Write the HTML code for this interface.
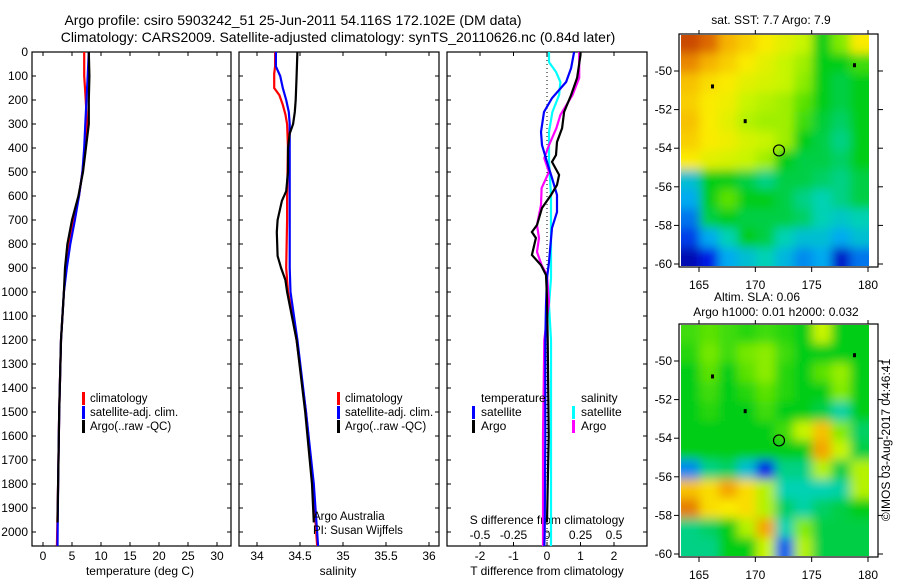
<!DOCTYPE html>
<html><head><meta charset="utf-8"><style>
body{margin:0;background:#fff;}
svg{display:block;font-family:"Liberation Sans",sans-serif;}
text{fill:#000;}
</style></head><body>
<svg id="chart" width="900" height="580" viewBox="0 0 900 580">
<defs>
<filter id="blur1" x="-5%" y="-5%" width="110%" height="110%"><feGaussianBlur stdDeviation="5"/></filter>
<clipPath id="clipM1"><rect x="681" y="35" width="188" height="231"/></clipPath>
<clipPath id="clipM2"><rect x="681" y="325" width="188" height="231"/></clipPath>
<clipPath id="clipP1"><rect x="32" y="52" width="199" height="494"/></clipPath>
<clipPath id="clipP2"><rect x="239" y="52" width="200" height="494"/></clipPath>
<clipPath id="clipP3"><rect x="447" y="52" width="200" height="494"/></clipPath>
</defs>
<text x="293" y="25" font-size="14" text-anchor="middle">Argo profile: csiro 5903242_51 25-Jun-2011 54.116S 172.102E (DM data)</text>
<text x="338" y="42" font-size="14" text-anchor="middle">Climatology: CARS2009. Satellite-adjusted climatology: synTS_20110626.nc (0.84d later)</text>
<g id="g"></g>
<text x="771" y="24" font-size="12" text-anchor="middle">sat. SST: 7.7 Argo: 7.9</text>
<text x="757" y="301" font-size="12" text-anchor="middle">Altim. SLA: 0.06</text>
<text x="776" y="316" font-size="12" text-anchor="middle">Argo h1000: 0.01 h2000: 0.032</text>
<text transform="translate(890,440) rotate(-90)" font-size="12" text-anchor="middle">©IMOS 03-Aug-2017 04:46:41</text>
</svg>
<script>
// ---------- data ----------
const tDepthRed=[0,100,170,300,400,500,600,700,800,900,1000,1200,1500,1800,2060];
const tRed=[7.1,7.1,7.3,7.6,7.3,6.8,6.2,5.2,4.5,4.0,3.6,3.1,2.8,2.6,2.4];
const tDepthBlue=[0,100,200,300,400,500,600,700,800,900,1000,1200,1500,1800,2060];
const tBlue=[7.9,7.7,7.5,7.3,7.1,6.8,6.2,5.5,4.7,4.1,3.6,3.1,2.8,2.6,2.5];
const tDepthBlack=[0,100,200,300,400,500,600,700,800,900,1000,1200,1500,1800,1960];
const tBlack=[7.9,8.0,7.9,7.9,7.4,6.9,6.1,5.0,4.2,3.8,3.6,3.1,2.8,2.6,2.5];
const sDepthRed=[0,60,90,150,180,220,260,300,400,600,700,900,1000,1200,1500,1800,2060];
const sRed=[34.21,34.21,34.20,34.20,34.26,34.30,34.33,34.35,34.36,34.35,34.35,34.34,34.36,34.46,34.57,34.65,34.70];
const sDepthBlue=[0,60,100,150,200,250,300,600,900,1000,1200,1500,1800,2060];
const sBlue=[34.22,34.22,34.27,34.30,34.34,34.37,34.38,34.38,34.38,34.39,34.47,34.57,34.66,34.71];
const sDepthBlack=[0,100,200,250,300,340,400,500,580,620,700,750,850,900,950,1000,1200,1500,1800,1960];
const sBlack=[34.47,34.46,34.45,34.44,34.42,34.38,34.36,34.36,34.34,34.29,34.24,34.23,34.24,34.28,34.33,34.35,34.46,34.56,34.64,34.66];
const dDepthTsat=[0,67,125,192,250,333,388,458,525,596,667,733,875,942,1054,1200,1600,2000,2060];
const dTsat=[0.81,0.72,0.57,0.15,-0.09,-0.18,-0.15,0,0.15,0.30,0.30,0.15,0.06,0,-0.03,-0.05,-0.05,-0.07,-0.08];
const dDepthTargo=[0,12,108,179,250,317,375,429,458,512,554,596,650,721,750,775,846,888,929,1025,1200,1600,1960];
const dTargo=[1.0,1.0,0.9,0.72,0.51,0.45,0.3,0.27,0.15,0.36,0.3,0.12,-0.15,-0.3,-0.45,-0.33,-0.45,-0.18,-0.03,0,0.02,0.05,0];
const dDepthSsat=[0,42,83,125,179,250,333,458,596,942,1054,1200,1600,2060];
const dSsat=[0.015,0.015,0.067,0.10,0.09,0.04,0.015,0.015,0.03,0.03,0.015,0.03,0.03,0.03];
const dDepthSargo=[0,12,108,179,262,317,388,442,500,567,638,721,775,833,888,929,1042,1200,1600,2060];
const dSargo=[0.24,0.24,0.24,0.19,0.10,0.07,0.015,-0.02,0.015,-0.04,-0.045,-0.075,-0.06,-0.075,-0.04,0,0.015,-0.02,-0.03,-0.03];
const depthTicks=[0,100,200,300,400,500,600,700,800,900,1000,1100,1200,1300,1400,1500,1600,1700,1800,1900,2000];
const tTicks=[0,5,10,15,20,25,30];
const sTicks=[34,34.5,35,35.5,36];
const sTickLabels=["34","34.5","35","35.5","36"];
const dTTicks=[-2,-1,0,1,2];
const dSTicks=[-0.5,-0.25,0,0.25,0.5];
const dSTickLabels=["-0.5","-0.25","0","0.25","0.5"];
const lonTicks=[165,170,175,180];
const latTicks=[-50,-52,-54,-56,-58,-60];
const sstGrid=[
[.92,.88,.78,.74,.7,.66,.62,.45,.55,.7],
[.84,.78,.74,.7,.66,.62,.58,.45,.45,.5],
[.76,.72,.7,.66,.64,.62,.56,.45,.42,.45],
[.74,.7,.68,.62,.6,.58,.52,.45,.42,.45],
[.76,.7,.66,.6,.58,.58,.5,.43,.4,.45],
[.74,.7,.68,.64,.62,.58,.45,.42,.38,.45],
[.7,.66,.64,.62,.58,.45,.42,.42,.4,.45],
[.3,.45,.45,.42,.38,.42,.42,.4,.38,.42],
[.25,.45,.52,.45,.45,.42,.38,.35,.38,.42],
[.2,.42,.45,.42,.42,.42,.4,.35,.32,.35],
[.15,.25,.35,.45,.42,.35,.3,.3,.25,.3],
[.05,.12,.25,.3,.35,.28,.22,.25,.08,.2]];
const slaGrid=[
[.5,.52,.5,.48,.5,.48,.45,.62,.45,.45],
[.48,.54,.5,.54,.56,.5,.45,.45,.45,.45],
[.45,.52,.45,.52,.56,.48,.45,.52,.57,.45],
[.45,.5,.45,.48,.52,.48,.45,.45,.55,.45],
[.45,.48,.45,.45,.5,.45,.45,.42,.36,.45],
[.45,.45,.45,.45,.45,.5,.62,.76,.55,.4],
[.45,.45,.45,.45,.45,.45,.45,.8,.62,.42],
[.22,.38,.4,.3,.12,.38,.38,.6,.42,.6],
[.76,.72,.8,.72,.6,.35,.35,.35,.36,.6],
[.85,.72,.7,.72,.6,.4,.36,.4,.42,.45],
[.38,.4,.45,.6,.8,.35,.55,.42,.42,.42],
[.38,.38,.45,.45,.62,.18,.6,.42,.42,.42]];
// ---------- helpers ----------
const NS="http://www.w3.org/2000/svg";
const G=document.getElementById('g');
function mk(tag,attrs,parent){const e=document.createElementNS(NS,tag);for(const k in attrs)e.setAttribute(k,attrs[k]);(parent||G).appendChild(e);return e;}
const yD=d=>52+d*0.24;
const xT=v=>43+v*5.8;
const xS=v=>257+(v-34)*86;
const xDT=v=>547+v*33.5;
const xDS=v=>547+v*134;
const xLon=v=>699+(v-165)*(169/15);
function latY(v,top){return top+(-50-v)*19.3;}
function line(depths,vals,xf,color,clip,name){
  const pts=depths.map((d,i)=>xf(vals[i]).toFixed(1)+','+yD(d).toFixed(1)).join(' ');
  const p=mk('polyline',{points:pts,fill:'none',stroke:color,'stroke-width':2.2,'clip-path':'url(#'+clip+')'});
  
  
}
function panel(x0,w,name){
  const r=mk('rect',{x:x0,y:52,width:w,height:494,fill:'none',stroke:'#000','stroke-width':1.2});
  
  
  depthTicks.forEach(d=>{const y=yD(d);mk('line',{x1:x0,x2:x0+4,y1:y,y2:y,stroke:'#000'});mk('line',{x1:x0+w-4,x2:x0+w,y1:y,y2:y,stroke:'#000'});});
}
function xticks(vals,xf,labels,y,name){
  vals.forEach((v,i)=>{const x=xf(v);mk('line',{x1:x,x2:x,y1:546,y2:542,stroke:'#000'});mk('line',{x1:x,x2:x,y1:52,y2:56,stroke:'#000'});
    const t=mk('text',{x:x,y:y,'font-size':12,'text-anchor':'middle'});t.textContent=labels?labels[i]:String(v);
    
    });
}
function txt(x,y,s,size,name,anchor){const t=mk('text',{x:x,y:y,'font-size':size,'text-anchor':anchor||'start'});t.textContent=s;return t;}
function legBar(x,y,c,name){const r=mk('rect',{x:x,y:y-10,width:3,height:13,fill:c});}
// ---------- panel 1: temperature ----------
panel(32,199,'temperature-panel');
depthTicks.forEach(d=>{txt(28,yD(d)+4,String(d),12,'depth-tick-label','end');});
xticks(tTicks,xT,null,560,'temperature-tick-label');
txt(140,575,'temperature (deg C)',12,'temperature-axis-title','middle');
line(tDepthRed,tRed,xT,'#f00','clipP1','temp-climatology-line');
line(tDepthBlue,tBlue,xT,'#00f','clipP1','temp-satellite-line');
line(tDepthBlack,tBlack,xT,'#000','clipP1','temp-argo-line');
legBar(82,402,'#f00','legend-climatology-swatch');txt(90,402,'climatology',11.5,'legend-climatology');
legBar(82,416,'#00f','legend-satellite-swatch');txt(90,416,'satellite-adj. clim.',11.5,'legend-satellite');
legBar(82,430,'#000','legend-argo-swatch');txt(90,430,'Argo(..raw -QC)',11.5,'legend-argo');
// ---------- panel 2: salinity ----------
panel(239,200,'salinity-panel');
xticks(sTicks,xS,sTickLabels,560,'salinity-tick-label');
txt(338,575,'salinity',12,'salinity-axis-title','middle');
line(sDepthRed,sRed,xS,'#f00','clipP2','sal-climatology-line');
line(sDepthBlue,sBlue,xS,'#00f','clipP2','sal-satellite-line');
line(sDepthBlack,sBlack,xS,'#000','clipP2','sal-argo-line');
legBar(337,402,'#f00','legend2-climatology-swatch');txt(345,402,'climatology',11.5,'legend2-climatology');
legBar(337,416,'#00f','legend2-satellite-swatch');txt(345,416,'satellite-adj. clim.',11.5,'legend2-satellite');
legBar(337,430,'#000','legend2-argo-swatch');txt(345,430,'Argo(..raw -QC)',11.5,'legend2-argo');
txt(313,520,'Argo Australia',11.5,'argo-australia-label');
txt(313,534,'PI: Susan Wijffels',11.5,'pi-label');
// ---------- panel 3: differences ----------
panel(447,200,'difference-panel');
mk('line',{x1:xDT(0),x2:xDT(0),y1:52,y2:546,stroke:'#000','stroke-dasharray':'1,3'});
dTTicks.forEach(v=>{const x=xDT(v);mk('line',{x1:x,x2:x,y1:546,y2:542,stroke:'#000'});mk('line',{x1:x,x2:x,y1:52,y2:56,stroke:'#000'});txt(x,560,String(v),12,'tdiff-tick-label','middle');});
dSTicks.forEach((v,i)=>{txt(xDS(v),539,dSTickLabels[i],12,'sdiff-tick-label','middle');});
txt(547,524,'S difference from climatology',12,'sdiff-axis-title','middle');
txt(547,575,'T difference from climatology',12,'tdiff-axis-title','middle');
line(dDepthSsat,dSsat,xDS,'#0ff','clipP3','sdiff-satellite-line');
line(dDepthSargo,dSargo,xDS,'#f0f','clipP3','sdiff-argo-line');
line(dDepthTsat,dTsat,xDT,'#00f','clipP3','tdiff-satellite-line');
line(dDepthTargo,dTargo,xDT,'#000','clipP3','tdiff-argo-line');
txt(481,402,'temperature',12,'legend3-temperature');
legBar(472,416,'#00f','legend3-tsat-swatch');txt(481,416,'satellite',12,'legend3-tsat');
legBar(472,430,'#000','legend3-targo-swatch');txt(481,430,'Argo',12,'legend3-targo');
txt(581,402,'salinity',12,'legend3-salinity');
legBar(572,416,'#0ff','legend3-ssat-swatch');txt(581,416,'satellite',12,'legend3-ssat');
legBar(572,430,'#f0f','legend3-sargo-swatch');txt(581,430,'Argo',12,'legend3-sargo');
// ---------- maps ----------
const stops=[[0,[0,0,140]],[0.12,[0,30,230]],[0.25,[0,170,240]],[0.35,[0,210,180]],[0.45,[0,205,20]],[0.55,[130,235,0]],[0.62,[200,245,0]],[0.7,[250,235,0]],[0.8,[245,165,0]],[0.9,[215,90,0]],[1,[150,0,0]]];
function cmap(v){for(let i=1;i<stops.length;i++){if(v<=stops[i][0]){const a=stops[i-1],b=stops[i],t=(v-a[0])/(b[0]-a[0]);return 'rgb('+a[1].map((c,k)=>Math.round(c+(b[1][k]-c)*t)).join(',')+')';}}return 'rgb(150,0,0)';}
function map(grid,top,clip,name,latTop){
  const fr=mk('rect',{x:679,y:top,width:199,height:233,fill:'#fff',stroke:'#000','stroke-width':1.2});
  
  
  const g=mk('g',{'clip-path':'url(#'+clip+')'});
  const gi=mk('g',{filter:'url(#blur1)'},g);
  const rows=grid.length,cols=grid[0].length,cw=188/cols,ch=233/rows;
  grid.forEach((row,r)=>row.forEach((v,c)=>{const cell=mk('rect',{x:(681+c*cw-(c==0?10:0)).toFixed(1),y:(top+r*ch-(r==0?10:0)).toFixed(1),width:(cw+1+(c==0?10:0)+(c==cols-1?10:0)).toFixed(1),height:(ch+1+(r==0?10:0)+(r==rows-1?10:0)).toFixed(1),fill:cmap(v)},gi);
    
    }));
  lonTicks.forEach(l=>{const x=xLon(l);mk('line',{x1:x,x2:x,y1:top+233,y2:top+238,stroke:'#000'});mk('line',{x1:x,x2:x,y1:top,y2:top-4,stroke:'#000'});txt(x,top+255,String(l),12,name+'-lon-label','middle');});
  latTicks.forEach(l=>{const y=latY(l,latTop);mk('line',{x1:674,x2:679,y1:y,y2:y,stroke:'#000'});mk('line',{x1:878,x2:883,y1:y,y2:y,stroke:'#000'});txt(672,y+4,String(l),12,name+'-lat-label','end');});
  const pt=mk('circle',{cx:xLon(172.1),cy:latY(-54.116,latTop),r:5.5,fill:'none',stroke:'#000','stroke-width':1.2});
  
  
  [[166.2,-50.8],[169.1,-52.6],[178.8,-49.7]].forEach(p=>{const isl=mk('rect',{x:xLon(p[0])-1.5,y:latY(p[1],latTop)-2,width:3,height:4,fill:'#000'});});
}
map(sstGrid,34,'clipM1','sst-map',71);
map(slaGrid,324,'clipM2','sla-map',361);
</script>
</body></html>
